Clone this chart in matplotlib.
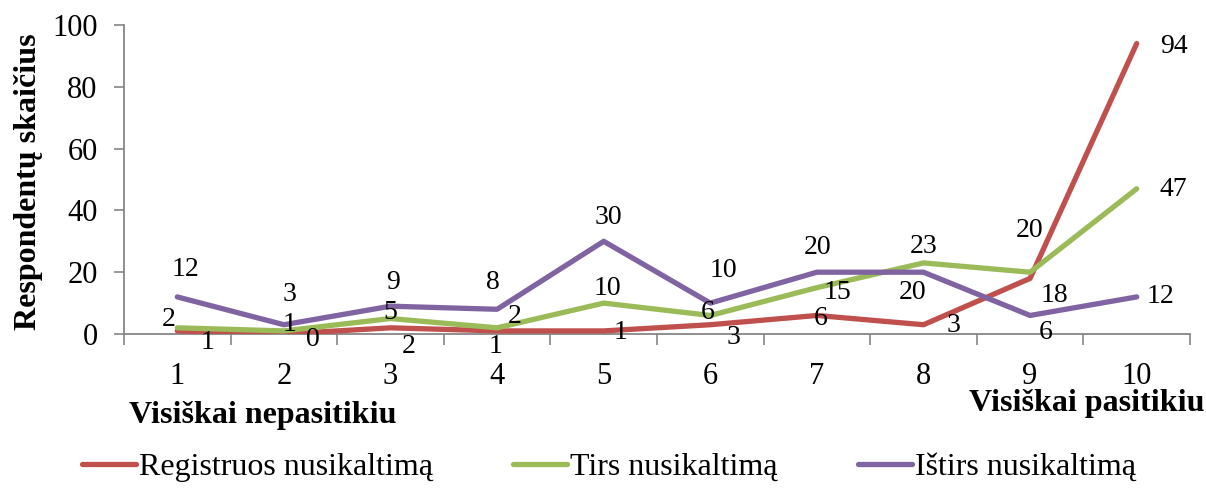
import matplotlib
matplotlib.use("Agg")
import matplotlib.pyplot as plt
from matplotlib.lines import Line2D

categories = [1, 2, 3, 4, 5, 6, 7, 8, 9, 10]
registruos = [1, 0, 2, 1, 1, 3, 6, 3, 18, 94]
tirs = [2, 1, 5, 2, 10, 6, 15, 23, 20, 47]
istirs = [12, 3, 9, 8, 30, 10, 20, 20, 6, 12]
series_names = ["Registruos nusikaltimą", "Tirs nusikaltimą", "Ištirs nusikaltimą"]
y_ticks = [0, 20, 40, 60, 80, 100]

colors = ["#C0504D", "#9BBB59", "#8064A2"]
# label offsets in pixels (dx right, dy down)
offsets = [
    [(30, 12), (29, 5), (18, 19), (-2, 16), (17, 2), (23, 13), (4, 3), (30, 1), (24, 17), (37, 3)],
    [(-9, -8), (6, -6), (0, -6), (18, -11), (4, -15), (-3, -3), (21, 5), (0, -16), (-1, -42), (37, 1)],
    [(8, -27), (6, -30), (3, -24), (-4, -27), (5, -24), (13, -33), (1, -25), (-11, 20), (16, 17), (24, 0)],
]

plt.rcParams['font.family'] = ['Liberation Serif', 'DejaVu Serif']
fig = plt.figure(figsize=(12.06, 4.93), dpi=100)
ax = fig.add_axes([124/1206, 1-334/493, (1190-124)/1206, (334-25)/493])

data = [registruos, tirs, istirs]
xs = list(range(len(categories)))
for vals, col, offs in zip(data, colors, offsets):
    ax.plot(xs, vals, color=col, lw=3.8, solid_capstyle='round', solid_joinstyle='round', zorder=3)
    for x, v, (dx, dy) in zip(xs, vals, offs):
        ax.annotate(str(v), (x, v), xytext=(dx, -dy), textcoords='offset pixels',
                    ha='center', va='center', fontsize=20, zorder=4)

ax.set_xlim(-0.5, len(categories) - 0.5)
ax.set_ylim(0, 100)
ax.set_yticks(y_ticks)
ax.set_yticklabels([str(t) for t in y_ticks], fontsize=22)
ax.set_xticks(xs)
ax.set_xticklabels([str(c) for c in categories], fontsize=22)
ax.set_xticks([x + 0.5 for x in [-1] + xs], minor=True)
ax.tick_params(axis='x', which='major', length=0, pad=20)
ax.tick_params(axis='x', which='minor', length=8, width=1.2, color='#868686', direction='out')
ax.tick_params(axis='y', length=7, width=1.2, color='#868686', pad=12)
for s in ['top', 'right']:
    ax.spines[s].set_visible(False)
for s in ['left', 'bottom']:
    ax.spines[s].set_color('#868686')
    ax.spines[s].set_linewidth(1.3)

fig.text(29/1206, 1-182/493, "Respondentų skaičius", rotation=90, ha='center', va='center',
         fontsize=23, fontweight='bold')
fig.text(263/1206, 1-415/493, "Visiškai nepasitikiu", ha='center', va='center',
         fontsize=23, fontweight='bold')
fig.text(1087/1206, 1-403/493, "Visiškai pasitikiu", ha='center', va='center',
         fontsize=23, fontweight='bold')

handles = [Line2D([0], [0], color=c, lw=3.8, solid_capstyle='round') for c in colors]
fig.legend(handles, series_names, loc='center', bbox_to_anchor=(609/1206, 1-467/493),
           ncol=3, frameon=False, fontsize=23, handlelength=1.7, handletextpad=0.1,
           columnspacing=2.5, borderpad=0, borderaxespad=0)

fig.savefig("out.png", dpi=100)
